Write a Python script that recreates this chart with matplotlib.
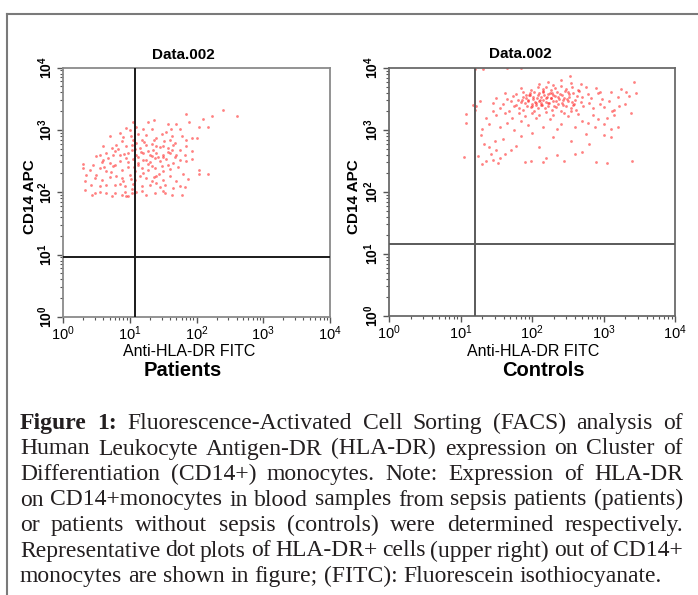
import matplotlib
matplotlib.use("Agg")
import numpy as np
import matplotlib.pyplot as plt
from matplotlib.lines import Line2D
from matplotlib.ticker import LogLocator, NullFormatter

plt.rcParams["font.family"] = ["Liberation Sans", "DejaVu Sans"]
plt.rcParams["mathtext.default"] = "regular"

# ---- data (log10 of fluorescence intensity) ----
patients_x = [
    2.40, 2.61, 2.23, 2.10, 1.85, 1.37, 1.05, 1.89, 2.17, 2.04, 1.58, 1.70,
    1.00, 1.20, 1.33, 1.48, 1.55, 1.63, 1.75, 1.78, 1.93, 0.85, 0.70, 1.13, 1.25, 1.40, 1.05, 1.18, 1.60, 1.68, 1.85, 2.00,
    0.60, 0.73, 0.80, 0.88, 0.95, 1.03, 1.10, 1.15, 1.25, 1.33, 1.40, 1.50, 1.58, 1.65, 1.75, 1.85, 1.93,
    0.55, 0.65, 0.75, 0.85, 0.98, 1.10, 1.20, 1.30, 1.40, 1.50, 1.60, 1.70, 1.83, 0.78, 1.03, 1.35, 1.63,
    0.30, 0.50, 0.60, 0.70, 0.78, 0.85, 0.95, 1.05, 1.13, 1.20, 1.28, 1.38, 1.45, 1.55, 1.65, 1.75, 1.85, 1.93,
    0.40, 0.55, 0.65, 0.75, 0.88, 0.98, 1.08, 1.18, 1.28, 1.38, 1.50, 1.60, 0.30, 2.03, 2.03, 2.17, 0.45, 1.33, 1.50, 1.68,
    0.35, 0.48, 0.58, 0.70, 0.80, 0.90, 1.00, 1.08, 1.15, 1.25, 1.33, 1.40, 1.50, 1.60, 1.70,
    0.33, 0.55, 0.65, 0.78, 0.93, 1.05, 1.18, 1.30, 1.40, 1.53, 1.65, 1.75, 0.88, 1.45, 1.03,
    0.33, 0.48, 0.55, 0.65, 0.78, 0.93, 0.95, 1.03, 1.10, 1.25, 1.50, 1.53, 1.63, 1.78, 1.83, 0.43, 0.73, 0.88, 1.18, 1.38, 0.98,
    1.02, 1.08, 1.12, 1.22, 1.27, 1.31, 1.36, 1.42, 1.46, 1.52, 1.57, 1.12, 0.92, 0.97, 0.82, 0.68, 0.62, 0.90, 1.06, 1.17,
    1.24, 1.34, 1.44, 1.58, 1.72, 1.80, 1.10, 1.28, 0.95, 1.62, 0.50, 0.42, 0.72, 1.20, 1.36, 1.88, 0.58, 1.48, 1.02, 0.85,
]
patients_y = [
    3.32, 3.23, 3.23, 3.18, 3.25, 3.16, 3.13, 3.13, 3.05, 3.05, 3.10, 3.10,
    2.99, 3.01, 3.02, 2.93, 2.96, 2.90, 3.02, 2.90, 2.87, 2.95, 2.90, 2.94, 2.91, 2.87, 2.84, 2.84, 2.84, 2.79, 2.84, 2.87,
    2.74, 2.71, 2.75, 2.82, 2.74, 2.76, 2.79, 2.71, 2.75, 2.78, 2.74, 2.74, 2.71, 2.75, 2.68, 2.74, 2.66,
    2.60, 2.63, 2.59, 2.60, 2.63, 2.60, 2.63, 2.60, 2.63, 2.59, 2.63, 2.60, 2.60, 2.66, 2.68, 2.68, 2.67,
    2.46, 2.58, 2.52, 2.47, 2.43, 2.50, 2.55, 2.53, 2.47, 2.52, 2.46, 2.55, 2.50, 2.53, 2.47, 2.52, 2.50, 2.53,
    2.36, 2.39, 2.34, 2.42, 2.36, 2.41, 2.34, 2.39, 2.36, 2.39, 2.34, 2.37, 2.39, 2.35, 2.30, 2.30, 2.43, 2.58, 2.57, 2.57,
    2.28, 2.23, 2.20, 2.25, 2.26, 2.18, 2.28, 2.20, 2.26, 2.23, 2.18, 2.26, 2.20, 2.26, 2.18,
    2.18, 2.10, 2.12, 2.11, 2.10, 2.14, 2.10, 2.12, 2.15, 2.11, 2.07, 2.10, 2.23, 2.09, 2.05,
    2.03, 1.98, 2.00, 1.99, 1.98, 2.00, 1.94, 1.98, 2.00, 1.96, 2.02, 1.99, 1.96, 1.95, 2.09, 1.96, 1.94, 1.96, 2.02, 1.99, 1.94,
    2.90, 2.70, 2.56, 2.80, 2.66, 2.48, 2.84, 2.57, 2.72, 2.82, 2.64, 2.44, 2.62, 2.48, 2.70, 2.55, 2.40, 2.88, 2.41, 2.65,
    2.52, 2.42, 2.30, 2.44, 2.40, 2.30, 3.05, 3.12, 3.03, 3.02, 2.28, 2.12, 2.32, 2.31, 2.24, 2.22, 2.48, 2.42, 2.22, 2.14,
]

controls_x = [
    1.20, 1.32, 1.65, 1.85,
    1.05, 1.07, 1.08, 1.18, 1.20, 1.27, 1.28, 1.22,
    1.30, 1.36, 1.45, 1.55, 1.62, 1.50, 1.40, 1.33, 1.48, 1.70, 1.78, 1.90, 1.98, 2.10, 2.20, 2.35, 2.45, 2.55,
    2.70, 2.90, 3.05, 3.40, 2.60, 1.60, 1.85, 2.00, 2.30, 2.80, 3.00, 1.42, 1.25, 1.52, 2.15, 2.75, 3.10,
    1.30, 1.40, 1.55, 1.65, 1.75, 1.85, 1.95, 2.05, 2.15, 2.25, 2.40, 2.50, 2.60, 2.70, 2.85, 3.00, 3.05, 3.10,
    1.50, 1.62, 1.72, 1.82, 1.90, 2.00, 2.10, 2.20, 2.30, 2.45, 2.55, 2.65, 2.78, 2.92, 3.15, 3.12, 1.35, 1.45,
    2.35, 2.88,
    1.55, 1.68, 1.75, 1.82, 1.88, 1.93, 1.98, 2.03, 2.08, 2.12, 2.18, 2.22, 2.28, 2.34, 2.40, 2.48, 2.55, 2.62,
    2.72, 2.85, 3.00, 3.15,
    1.45, 1.60, 1.70, 1.78, 1.84, 1.90, 1.95, 2.00, 2.05, 2.10, 2.14, 2.19, 2.24, 2.30, 2.36, 2.42, 2.50, 2.58,
    2.68, 2.80, 2.95, 3.08,
    1.50, 1.65, 1.74, 1.80, 1.87, 1.92, 1.97, 2.02, 2.07, 2.12, 2.16, 2.21, 2.26, 2.32, 2.38, 2.45, 2.52, 2.60,
    2.70, 2.82, 2.98, 3.20,
    1.62, 1.78, 1.88, 1.96, 2.03, 2.10, 2.16, 2.22, 2.28, 2.35, 2.42, 2.50, 2.58, 2.66, 2.78, 2.92, 3.10,
    1.85, 1.98, 2.08, 2.15, 2.20, 2.26, 2.32, 2.40, 2.48, 2.56, 2.65, 2.75, 2.90, 3.25,
    2.10, 2.22, 2.30, 2.40, 2.55, 2.68, 2.53, 3.42,
    3.35, 3.45, 3.30, 3.38, 3.20, 3.22, 2.95, 3.32,
    1.94, 2.01, 2.06, 2.11, 2.17, 2.23, 2.27, 2.33, 2.39, 2.44, 2.49, 2.56, 2.63, 1.97, 2.04, 2.09, 2.13, 2.20,
    2.25, 2.31, 2.37, 2.43, 2.52, 2.59, 1.86, 1.91, 2.00, 2.15, 2.29, 2.46,
]
controls_y = [
    3.98, 3.99, 4.00, 4.00,
    2.57, 3.11, 3.26, 3.41, 3.33, 3.46, 2.92, 3.38,
    2.45, 2.50, 2.52, 2.55, 2.62, 2.68, 2.72, 2.78, 2.82, 2.68, 2.75, 2.48, 2.50, 2.72, 2.55, 2.60, 2.50, 2.82,
    2.65, 2.48, 2.47, 2.50, 2.62, 2.85, 2.90, 2.95, 2.88, 2.78, 2.92, 2.62, 2.58, 2.47, 2.48, 2.93, 2.88,
    3.02, 3.10, 3.05, 3.12, 3.00, 3.15, 3.08, 3.20, 3.05, 3.18, 3.10, 3.22, 3.05, 3.15, 3.25, 3.10, 3.20, 3.02,
    3.25, 3.28, 3.20, 3.27, 3.22, 3.28, 3.25, 3.29, 3.24, 3.28, 3.30, 3.26, 3.12, 3.18, 3.25, 3.30, 3.20, 3.30,
    3.02, 3.05,
    3.35, 3.31, 3.38, 3.36, 3.32, 3.39, 3.37, 3.31, 3.36, 3.40, 3.35, 3.38, 3.32, 3.37, 3.31, 3.39, 3.36, 3.33,
    3.38, 3.35, 3.37, 3.33,
    3.44, 3.42, 3.47, 3.41, 3.45, 3.43, 3.48, 3.42, 3.44, 3.46, 3.41, 3.45, 3.43, 3.47, 3.42, 3.44, 3.46, 3.41,
    3.45, 3.43, 3.42, 3.46,
    3.52, 3.50, 3.55, 3.49, 3.53, 3.51, 3.56, 3.50, 3.52, 3.54, 3.49, 3.53, 3.51, 3.55, 3.50, 3.52, 3.54, 3.49,
    3.53, 3.51, 3.50, 3.54,
    3.60, 3.58, 3.62, 3.57, 3.61, 3.59, 3.63, 3.58, 3.60, 3.62, 3.57, 3.61, 3.59, 3.63, 3.58, 3.60, 3.62,
    3.67, 3.65, 3.70, 3.66, 3.69, 3.64, 3.68, 3.71, 3.66, 3.69, 3.65, 3.70, 3.67, 3.66,
    3.74, 3.78, 3.73, 3.80, 3.76, 3.75, 3.87, 3.77,
    3.55, 3.60, 3.42, 3.28, 3.05, 3.38, 3.62, 3.62,
    3.47, 3.53, 3.40, 3.49, 3.56, 3.44, 3.52, 3.46, 3.58, 3.41, 3.50, 3.45, 3.55, 3.60, 3.45, 3.57, 3.43, 3.51,
    3.60, 3.39, 3.54, 3.48, 3.58, 3.42, 3.48, 3.56, 3.38, 3.62, 3.56, 3.63,
]

# quadrant gates (x, y)
patients_gate = (12.0, 9.2)
controls_gate = (16.0, 14.3)

panel_title = "Data.002"
x_label = "Anti-HLA-DR FITC"
y_label = "CD14 APC"
group_names = ["Patients", "Controls"]

caption_lines = [
    "Figure 1: Fluorescence-Activated Cell Sorting (FACS) analysis of",
    "Human Leukocyte Antigen-DR (HLA-DR) expression on Cluster of",
    "Differentiation (CD14+) monocytes. Note: Expression of HLA-DR",
    "on CD14+monocytes in blood samples from sepsis patients (patients)",
    "or patients without sepsis (controls) were determined respectively.",
    "Representative dot plots of HLA-DR+ cells (upper right) out of CD14+",
    "monocytes are shown in figure; (FITC): Fluorescein isothiocyanate.",
]

W, H = 698, 595
fig = plt.figure(figsize=(W / 100, H / 100), dpi=100)


def fx(px):
    return px / W


def fy(py):
    return 1 - py / H


def setup(ax, frame_color):
    ax.set_xscale("log")
    ax.set_yscale("log")
    ax.set_xlim(1, 1e4)
    ax.set_ylim(1, 1e4)
    for axis in (ax.xaxis, ax.yaxis):
        axis.set_major_locator(LogLocator(base=10, numticks=10))
        axis.set_minor_locator(LogLocator(base=10, subs=range(2, 10), numticks=10))
        axis.set_minor_formatter(NullFormatter())
    for sp in ax.spines.values():
        sp.set_color(frame_color)
        sp.set_linewidth(1.3)
    ax.tick_params(which="major", direction="out", length=4, width=1, color="#555555",
                   labelsize=10.5, pad=1)
    ax.tick_params(which="minor", direction="out", length=2.5, width=0.8, color="#555555")
    ax.tick_params(axis="y", labelrotation=90, pad=2)
    plt.setp(ax.get_yticklabels(), fontweight="bold", va="center", fontsize=10)


ax1 = fig.add_axes([fx(63), fy(317), fx(330) - fx(63), (317 - 67.5) / H])
ax2 = fig.add_axes([fx(389), fy(316), fx(675) - fx(389), (316 - 68) / H])

panels = [
    (ax1, patients_x, patients_y, patients_gate, "#8a8a8a", "#1a1a1a"),
    (ax2, controls_x, controls_y, controls_gate, "#6a6a6a", "#5a5a5a"),
]
for ax, xs, ys, gate, frame_c, gate_c in panels:
    setup(ax, frame_c)
    ax.scatter(10 ** np.array(xs), 10 ** np.array(ys), s=4, marker="o",
               color="#ff1a1a", alpha=0.55, linewidths=0, zorder=2)
    ax.axvline(gate[0], color=gate_c, lw=1.4, zorder=3)
    ax.axhline(gate[1], color=gate_c, lw=1.4, zorder=3)

# panel texts
fig.text(fx(183), fy(55), panel_title, ha="center", va="center", fontsize=11, fontweight="bold")
fig.text(fx(520), fy(54), panel_title, ha="center", va="center", fontsize=11, fontweight="bold")
fig.text(fx(189), fy(351), x_label, ha="center", va="center", fontsize=11.5)
fig.text(fx(533), fy(351), x_label, ha="center", va="center", fontsize=11.5)
fig.text(fx(30), fy(197), y_label, ha="center", va="center", rotation=90, fontsize=11, fontweight="bold")
fig.text(fx(354), fy(197), y_label, ha="center", va="center", rotation=90, fontsize=11, fontweight="bold")
fig.text(fx(183), fy(370), group_names[0], ha="center", va="center", fontsize=14.5, fontweight="bold")
fig.text(fx(543), fy(370), group_names[1], ha="center", va="center", fontsize=14.5, fontweight="bold")

# outer frame (top and left edges visible)
frame_c = "#7a7a7a"
fig.add_artist(Line2D([fx(7), 1], [fy(14), fy(14)], transform=fig.transFigure, color=frame_c, lw=1.5))
fig.add_artist(Line2D([fx(7), fx(7)], [fy(14), 0], transform=fig.transFigure, color=frame_c, lw=1.5))

# justified caption
cap_font = ["Liberation Serif", "DejaVu Serif"]
cap_color = "#231f20"
left_px, right_px = 20, 683
base0, step = 429, 25.5
renderer = fig.canvas.get_renderer()

cap_size = 17.5
while True:
    rows = []
    ok = True
    for i, line in enumerate(caption_lines):
        words = line.split(" ")
        texts = []
        for j, w in enumerate(words):
            bold = i == 0 and j < 2
            t = fig.text(0, fy(base0 + i * step), w, fontsize=cap_size, family=cap_font,
                         fontweight="bold" if bold else "normal", color=cap_color,
                         ha="left", va="baseline")
            texts.append(t)
        widths = [t.get_window_extent(renderer).width for t in texts]
        rows.append((texts, widths))
        if i < len(caption_lines) - 1:
            gap = (right_px - left_px - sum(widths)) / (len(words) - 1)
            if gap < cap_size * 100 / 72 * 0.2:
                ok = False
    if ok or cap_size <= 12:
        break
    for texts, _ in rows:
        for t in texts:
            t.remove()
    cap_size -= 0.25

for i, (texts, widths) in enumerate(rows):
    if i == len(rows) - 1:
        gap = cap_size * 100 / 72 * 0.25
    else:
        gap = (right_px - left_px - sum(widths)) / (len(texts) - 1)
    x = left_px
    for t, wd in zip(texts, widths):
        t.set_x(fx(x))
        x += wd + gap

fig.savefig("out.png", dpi=100)
